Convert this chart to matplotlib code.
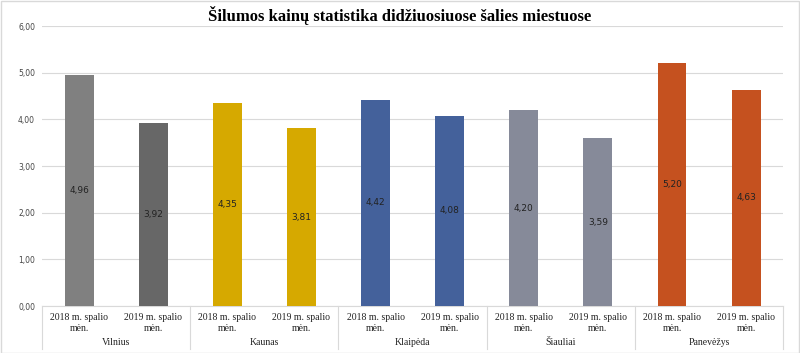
import matplotlib
matplotlib.use("Agg")
import matplotlib.pyplot as plt
from matplotlib.transforms import blended_transform_factory

cities = ["Vilnius", "Kaunas", "Klaipėda", "Šiauliai", "Panevėžys"]
periods = ["2018 m. spalio\nmėn.", "2019 m. spalio\nmėn."]
values_2018 = [4.96, 4.35, 4.42, 4.20, 5.20]
values_2019 = [3.92, 3.81, 4.08, 3.59, 4.63]
colors_2018 = ["#808080", "#d6a900", "#44619b", "#868a99", "#c5511f"]
colors_2019 = ["#676767", "#d6a900", "#44619b", "#868a99", "#c5511f"]
yticks = [0, 1, 2, 3, 4, 5, 6]

fig = plt.figure(figsize=(8, 3.53), dpi=100)
ax = fig.add_axes([0.0525, 0.1331, 0.9265, 0.7932])

xs, vals, cols, labels = [], [], [], []
for i in range(len(cities)):
    for j, (v, c) in enumerate([(values_2018[i], colors_2018[i]), (values_2019[i], colors_2019[i])]):
        xs.append(2 * i + j)
        vals.append(v)
        cols.append(c)
        labels.append(periods[j])

bars = ax.bar(xs, vals, width=0.39, color=cols, zorder=3)
for x, v in zip(xs, vals):
    ax.text(x, v / 2, f"{v:.2f}".replace(".", ","), ha="center", va="center",
            fontsize=6.5, family="DejaVu Sans", color="#222222", zorder=4)

ax.set_xlim(-0.5, 9.5)
ax.set_ylim(0, 6)
ax.set_yticks(yticks)
ax.set_yticklabels([f"{t:.2f}".replace(".", ",") for t in yticks], fontsize=5.5, color="#444444")
ax.yaxis.grid(True, color="#d9d9d9", linewidth=0.8, zorder=0)
ax.tick_params(axis="y", length=0, pad=5)
ax.set_xticks(xs)
ax.set_xticklabels(labels, fontsize=7, family="Liberation Serif", color="#222222", linespacing=1.35)
ax.tick_params(axis="x", length=0, pad=5)
for s in ["top", "right", "left"]:
    ax.spines[s].set_visible(False)
ax.spines["bottom"].set_color("#d9d9d9")

trans = blended_transform_factory(ax.transData, ax.transAxes)
for k in range(6):
    xb = -0.5 + 2 * k
    ax.plot([xb, xb], [0, -0.155], transform=trans, color="#d9d9d9", lw=0.8, clip_on=False)
for i, c in enumerate(cities):
    ax.text(2 * i + 0.5, -0.13, c, transform=trans, ha="center", va="center",
            fontsize=7, family="Liberation Serif", color="#222222")

fig.text(0.5, 0.957, "Šilumos kainų statistika didžiuosiuose šalies miestuose", ha="center", va="center",
         fontsize=12, fontweight="bold", family="Liberation Serif")

fig.patches.append(plt.Rectangle((0.001, 0.001), 0.998, 0.997, transform=fig.transFigure,
                                 fill=False, edgecolor="#d9d9d9", lw=1))
fig.savefig("out.png", dpi=100)
